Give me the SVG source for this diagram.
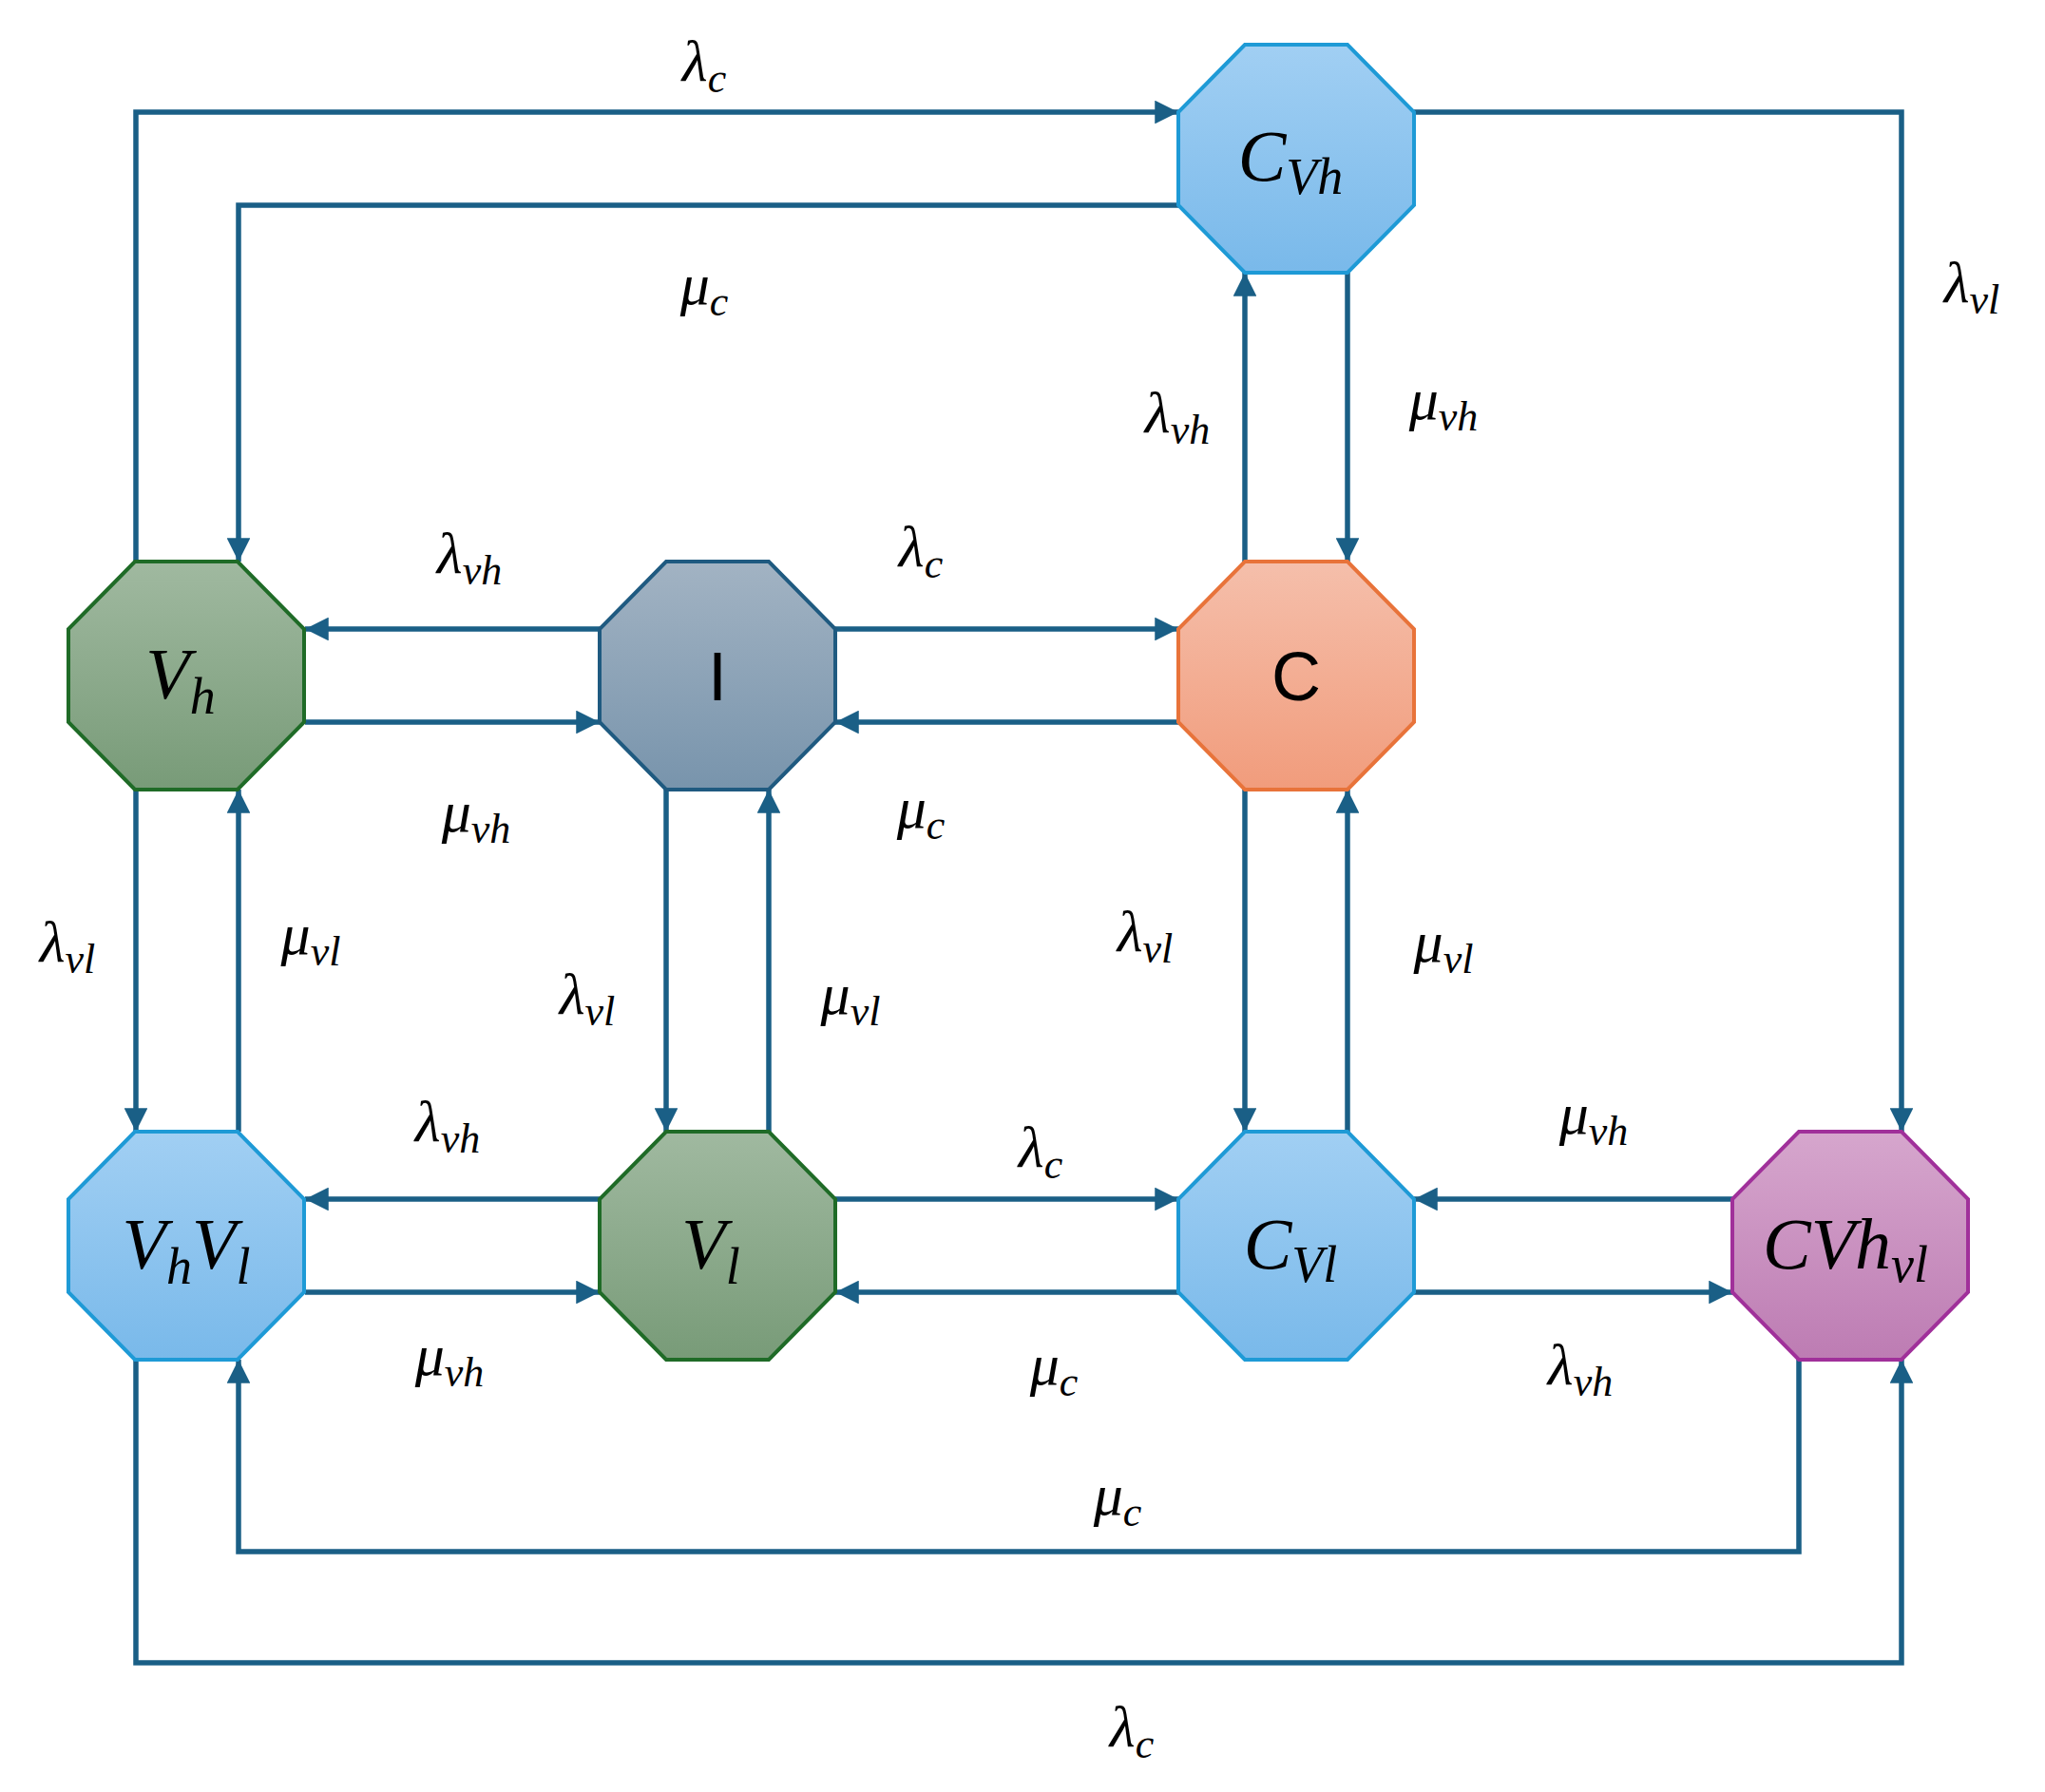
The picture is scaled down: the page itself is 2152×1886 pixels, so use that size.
<svg xmlns="http://www.w3.org/2000/svg" width="2152" height="1886" viewBox="0 0 2152 1886">
<style>
.e{fill:none;stroke:#1a5f86;stroke-width:5.5;marker-end:url(#ar)}
.m{font-family:"Liberation Serif","DejaVu Serif",serif;font-style:italic;font-size:62px;fill:#000;text-anchor:middle}
.s{font-size:44px}
.n{font-family:"Liberation Serif","DejaVu Serif",serif;font-style:italic;font-size:76px;fill:#000;text-anchor:middle}
.ns{font-size:54px}
.p{font-family:"Liberation Sans",Arial,sans-serif;font-size:72px;fill:#000;text-anchor:middle}
.o{stroke-width:4}
</style>
<defs>
<marker id="ar" viewBox="0 0 10 10" refX="10" refY="5" markerWidth="4.5" markerHeight="4.5" orient="auto" markerUnits="strokeWidth"><path d="M0,0L10,5L0,10z" fill="#1a5f86"/></marker>
<polygon id="oct" points="-54,-120 54,-120 124,-49 124,49 54,120 -54,120 -124,49 -124,-49"/>
<linearGradient id="gg" x1="0" y1="0" x2="0" y2="1"><stop offset="0" stop-color="#a0b9a0"/><stop offset="1" stop-color="#789b78"/></linearGradient>
<linearGradient id="gi" x1="0" y1="0" x2="0" y2="1"><stop offset="0" stop-color="#a2b3c3"/><stop offset="1" stop-color="#7894ac"/></linearGradient>
<linearGradient id="gc" x1="0" y1="0" x2="0" y2="1"><stop offset="0" stop-color="#f5bfab"/><stop offset="1" stop-color="#f19c7c"/></linearGradient>
<linearGradient id="gb" x1="0" y1="0" x2="0" y2="1"><stop offset="0" stop-color="#a1cff3"/><stop offset="1" stop-color="#79b9ea"/></linearGradient>
<linearGradient id="gp" x1="0" y1="0" x2="0" y2="1"><stop offset="0" stop-color="#d6a6cd"/><stop offset="1" stop-color="#bd7cb3"/></linearGradient>
</defs>
<g id="connectors">
<path class="e" d="M143,591V118H1240"/>
<path class="e" d="M1240,216H251V591"/>
<path class="e" d="M1488,118H2001V1191"/>
<path class="e" d="M1310,591V287"/>
<path class="e" d="M1418,287V591"/>
<path class="e" d="M631,662H321"/>
<path class="e" d="M321,760H631"/>
<path class="e" d="M879,662H1240"/>
<path class="e" d="M1240,760H879"/>
<path class="e" d="M143,831V1191"/>
<path class="e" d="M251,1191V831"/>
<path class="e" d="M701,831V1191"/>
<path class="e" d="M809,1191V831"/>
<path class="e" d="M1310,831V1191"/>
<path class="e" d="M1418,1191V831"/>
<path class="e" d="M631,1262H321"/>
<path class="e" d="M321,1360H631"/>
<path class="e" d="M879,1262H1240"/>
<path class="e" d="M1240,1360H879"/>
<path class="e" d="M1823,1262H1488"/>
<path class="e" d="M1488,1360H1823"/>
<path class="e" d="M1893,1431V1633H251V1431"/>
<path class="e" d="M143,1431V1750H2001V1431"/>
</g>
<g id="labels">
<text class="m" x="741" y="85">λ<tspan class="s" dy="12">c</tspan></text>
<text class="m" x="741" y="320">μ<tspan class="s" dy="12">c</tspan></text>
<text class="m" x="2075" y="318">λ<tspan class="s" dy="12">vl</tspan></text>
<text class="m" x="1239" y="455">λ<tspan class="s" dy="12">vh</tspan></text>
<text class="m" x="1519" y="441">μ<tspan class="s" dy="12">vh</tspan></text>
<text class="m" x="494" y="603">λ<tspan class="s" dy="12">vh</tspan></text>
<text class="m" x="501" y="875">μ<tspan class="s" dy="12">vh</tspan></text>
<text class="m" x="969" y="596">λ<tspan class="s" dy="12">c</tspan></text>
<text class="m" x="969" y="871">μ<tspan class="s" dy="12">c</tspan></text>
<text class="m" x="71" y="1012">λ<tspan class="s" dy="12">vl</tspan></text>
<text class="m" x="327" y="1004">μ<tspan class="s" dy="12">vl</tspan></text>
<text class="m" x="618" y="1067">λ<tspan class="s" dy="12">vl</tspan></text>
<text class="m" x="895" y="1067">μ<tspan class="s" dy="12">vl</tspan></text>
<text class="m" x="1205" y="1001">λ<tspan class="s" dy="12">vl</tspan></text>
<text class="m" x="1519" y="1012">μ<tspan class="s" dy="12">vl</tspan></text>
<text class="m" x="471" y="1201">λ<tspan class="s" dy="12">vh</tspan></text>
<text class="m" x="473" y="1447">μ<tspan class="s" dy="12">vh</tspan></text>
<text class="m" x="1095" y="1228">λ<tspan class="s" dy="12">c</tspan></text>
<text class="m" x="1109" y="1457">μ<tspan class="s" dy="12">c</tspan></text>
<text class="m" x="1677" y="1193">μ<tspan class="s" dy="12">vh</tspan></text>
<text class="m" x="1663" y="1457">λ<tspan class="s" dy="12">vh</tspan></text>
<text class="m" x="1176" y="1594">μ<tspan class="s" dy="12">c</tspan></text>
<text class="m" x="1191" y="1838">λ<tspan class="s" dy="12">c</tspan></text>
</g>
<g id="Vh"><use href="#oct" x="196" y="711" fill="url(#gg)" stroke="#1f6b27" class="o"/><text class="n" x="190" y="735">V<tspan class="ns" dy="16">h</tspan></text></g>
<g id="I"><use href="#oct" x="755" y="711" fill="url(#gi)" stroke="#1f5a80" class="o"/><text class="p" x="755" y="737">I</text></g>
<g id="C"><use href="#oct" x="1364" y="711" fill="url(#gc)" stroke="#e8733a" class="o"/><text class="p" x="1364" y="737">C</text></g>
<g id="Cvh"><use href="#oct" x="1364" y="167" fill="url(#gb)" stroke="#1e9ad6" class="o"/><text class="n" x="1358" y="190">C<tspan class="ns" dy="14">Vh</tspan></text></g>
<g id="VhVl"><use href="#oct" x="196" y="1311" fill="url(#gb)" stroke="#1e9ad6" class="o"/><text class="n" x="196" y="1335">V<tspan class="ns" dy="16">h</tspan><tspan dy="-16">V</tspan><tspan class="ns" dy="16">l</tspan></text></g>
<g id="Vl"><use href="#oct" x="755" y="1311" fill="url(#gg)" stroke="#1f6b27" class="o"/><text class="n" x="748" y="1335">V<tspan class="ns" dy="16">l</tspan></text></g>
<g id="Cvl"><use href="#oct" x="1364" y="1311" fill="url(#gb)" stroke="#1e9ad6" class="o"/><text class="n" x="1358" y="1335">C<tspan class="ns" dy="14">Vl</tspan></text></g>
<g id="CVhvl"><use href="#oct" x="1947" y="1311" fill="url(#gp)" stroke="#a0309a" class="o"/><text class="n" x="1942" y="1335">CVh<tspan class="ns" dy="14">vl</tspan></text></g>
</svg>
